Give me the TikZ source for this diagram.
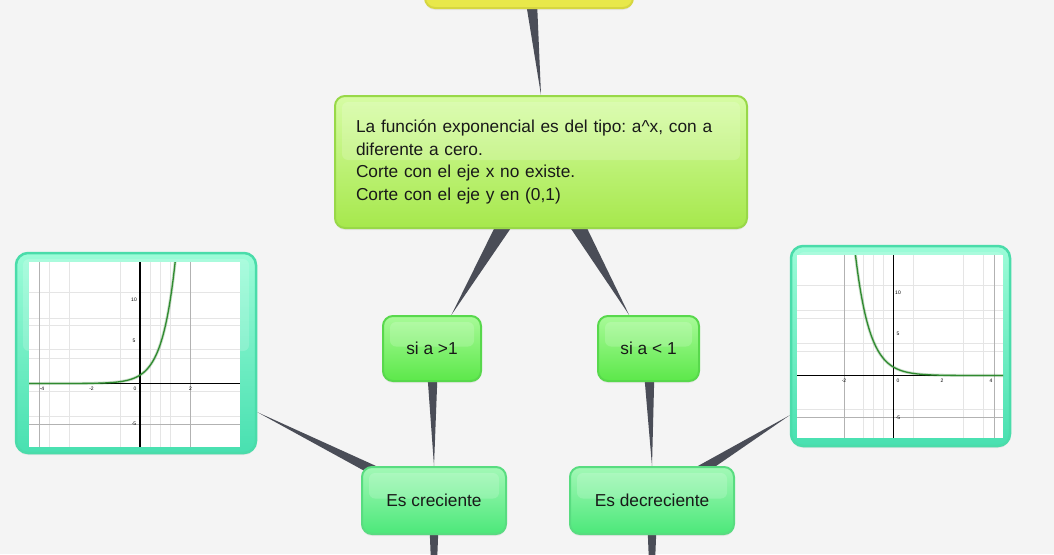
\documentclass[tikz,border=0pt]{standalone}
\usepackage{fontspec}
\setmainfont{Liberation Sans}
\usepackage{xcolor}
\usepackage{tikz}
\usetikzlibrary{calc,backgrounds,shadows}
\frenchspacing

\definecolor{paper}{HTML}{F4F4F4}
\definecolor{wedgegray}{HTML}{4A4D57}
\definecolor{yelfill}{HTML}{E8E84A}
\definecolor{yelline}{HTML}{D6D640}
\definecolor{defTop}{HTML}{D6FCA4}
\definecolor{defBot}{HTML}{A6E84C}
\definecolor{defLine}{HTML}{98D848}
\definecolor{caseTop}{HTML}{A8FA98}
\definecolor{caseBot}{HTML}{5CE84A}
\definecolor{caseLine}{HTML}{58D84C}
\definecolor{resTop}{HTML}{A2F8B6}
\definecolor{resBot}{HTML}{4CE87A}
\definecolor{resLine}{HTML}{58DC80}
\definecolor{frameTop}{HTML}{9CFCD8}
\definecolor{frameBot}{HTML}{48E0B0}
\definecolor{frameLine}{HTML}{4ADCAA}
\definecolor{curvegreen}{HTML}{2F8A2F}

% tapered connector: wide at #1, point at #2
\newcommand\taper[3]{\fill[wedge] ($(#1)!#3!90:(#2)$) -- ($(#1)!#3!-90:(#2)$) -- (#2) -- cycle;}

\begin{document}
\begin{tikzpicture}[x=1pt, y=-1pt, font=\fontsize{17.3}{22.8}\selectfont,
  box/.style={rounded corners=10pt, line width=2pt, inner sep=0pt, align=center, text=black!90,
    drop shadow={shadow xshift=0pt, shadow yshift=-2pt, opacity=0.12},
    path picture={\fill[white, opacity=0.17, rounded corners=6pt]
      ($(path picture bounding box.north west)+(7pt,-6pt)$) rectangle
      ($(path picture bounding box.east)+(-7pt,2pt)$);}},
  tema/.style={box, draw=yelline, fill=yelfill},
  defi/.style={box, draw=defLine, top color=defTop, bottom color=defBot},
  caso/.style={box, draw=caseLine, top color=caseTop, bottom color=caseBot},
  result/.style={box, draw=resLine, top color=resTop, bottom color=resBot},
  plotframe/.style={box, rounded corners=12pt, line width=2.5pt, draw=frameLine, top color=frameTop, bottom color=frameBot},
  wedge/.style={fill=wedgegray},
  gridlight/.style={black!10, line width=0.7pt},
  gridmajor/.style={black!30, line width=0.9pt},
  axisline/.style={black, line width=1.1pt},
  curve/.style={curvegreen, line width=1.3pt, preaction={draw, green!40!black, opacity=0.2, line width=3pt}},
  ticklbl/.style={font=\fontsize{5}{5}\selectfont, inner sep=0pt}]
  \useasboundingbox (0,0) rectangle (1054,554);
  \clip (0,0) rectangle (1054,554);

  % nodes
  \node[tema, minimum width=208pt, minimum height=60pt] (tema) at (529,-22) {};
  \node[defi, minimum width=412pt, minimum height=132pt, text width=370pt, align=left] (def) at (541,162)
    {La función exponencial es del tipo: a\textasciicircum x, con a\\diferente a cero.\\Corte con el eje x no existe.\\Corte con el eje y en (0,1)};
  \node[caso, minimum width=98pt, minimum height=65pt] (mayor) at (432,348.5) {si a >1};
  \node[caso, minimum width=101pt, minimum height=65pt] (menor) at (648.5,348.5) {si a < 1};
  \node[result, minimum width=144pt, minimum height=67pt] (crec) at (434,500.5) {Es creciente};
  \node[result, minimum width=164pt, minimum height=67pt] (decr) at (652,500.5) {Es decreciente};
  \node[plotframe, minimum width=240pt, minimum height=200pt] (grafA) at (136,353) {};
  \node[plotframe, minimum width=219pt, minimum height=200pt] (grafB) at (900.5,346) {};
  \coordinate (sigA) at (434,640);
  \coordinate (sigB) at (652,640);

  % connectors
  \begin{scope}[on background layer]
    \fill[paper] (0,0) rectangle (1054,554);
    \taper{tema}{def.north}{7pt}
    \taper{def}{mayor.60}{12.5pt}
    \taper{def}{menor.120}{12.5pt}
    \taper{mayor}{crec.north}{6.5pt}
    \taper{menor}{decr.north}{6.5pt}
    \taper{crec}{grafA.-26}{7.5pt}
    \taper{decr}{grafB.212}{8pt}
    \taper{crec}{sigA}{5.5pt}
    \taper{decr}{sigB}{5.5pt}
  \end{scope}

  % left graph, a>1
  \fill[white] (29,262) rectangle (240,447);
  \foreach \gx in {49.5,69.5,120.5,150,160,170.5} \draw[gridlight] (\gx,262) -- (\gx,447);
  \foreach \gy in {292,318,325.5,349.5,358,391.5,416.5} \draw[gridlight] (29,\gy) -- (240,\gy);
  \foreach \gx in {39.5,190.5} \draw[gridmajor] (\gx,262) -- (\gx,447);
  \draw[gridmajor] (29,424) -- (240,424);
  \draw[axisline] (140,262) -- (140,447);
  \draw[axisline] (29,383.5) -- (240,383.5);
  \foreach \lx/\lt in {42/-4, 91.5/-2, 135/0, 190.5/2} \node[ticklbl] at (\lx,389) {\lt};
  \foreach \ly/\lt in {300/10, 341/5, 424/-5} \node[ticklbl] at (134,\ly) {\lt};
  \begin{scope}
    \clip (29,262) rectangle (240,447);
    \draw[curve] plot[smooth, domain=29:182, samples=90] (\x, {383.5-8.4*exp(0.076*(\x-140))});
  \end{scope}

  % right graph, a<1
  \fill[white] (797,255) rectangle (1003,438);
  \foreach \gx in {863.5,873.5,883.5,913.5,963.5,983.5} \draw[gridlight] (\gx,255) -- (\gx,438);
  \foreach \gy in {285,310,318.5,343.5,351.5,409} \draw[gridlight] (797,\gy) -- (1003,\gy);
  \foreach \gx in {844,994} \draw[gridmajor] (\gx,255) -- (\gx,438);
  \draw[gridmajor] (797,417.5) -- (1003,417.5);
  \draw[axisline] (893.5,255) -- (893.5,438);
  \draw[axisline] (797,375.5) -- (1003,375.5);
  \foreach \lx/\lt in {844/-2, 898/0, 942/2, 991/4} \node[ticklbl] at (\lx,381) {\lt};
  \foreach \ly/\lt in {293/10, 334/5, 418/-5} \node[ticklbl] at (898,\ly) {\lt};
  \begin{scope}
    \clip (797,255) rectangle (1003,438);
    \draw[curve] plot[smooth, domain=850:1003, samples=90] (\x, {375.5-8.4*exp(-0.07*(\x-893.5))});
  \end{scope}
\end{tikzpicture}
\end{document}
